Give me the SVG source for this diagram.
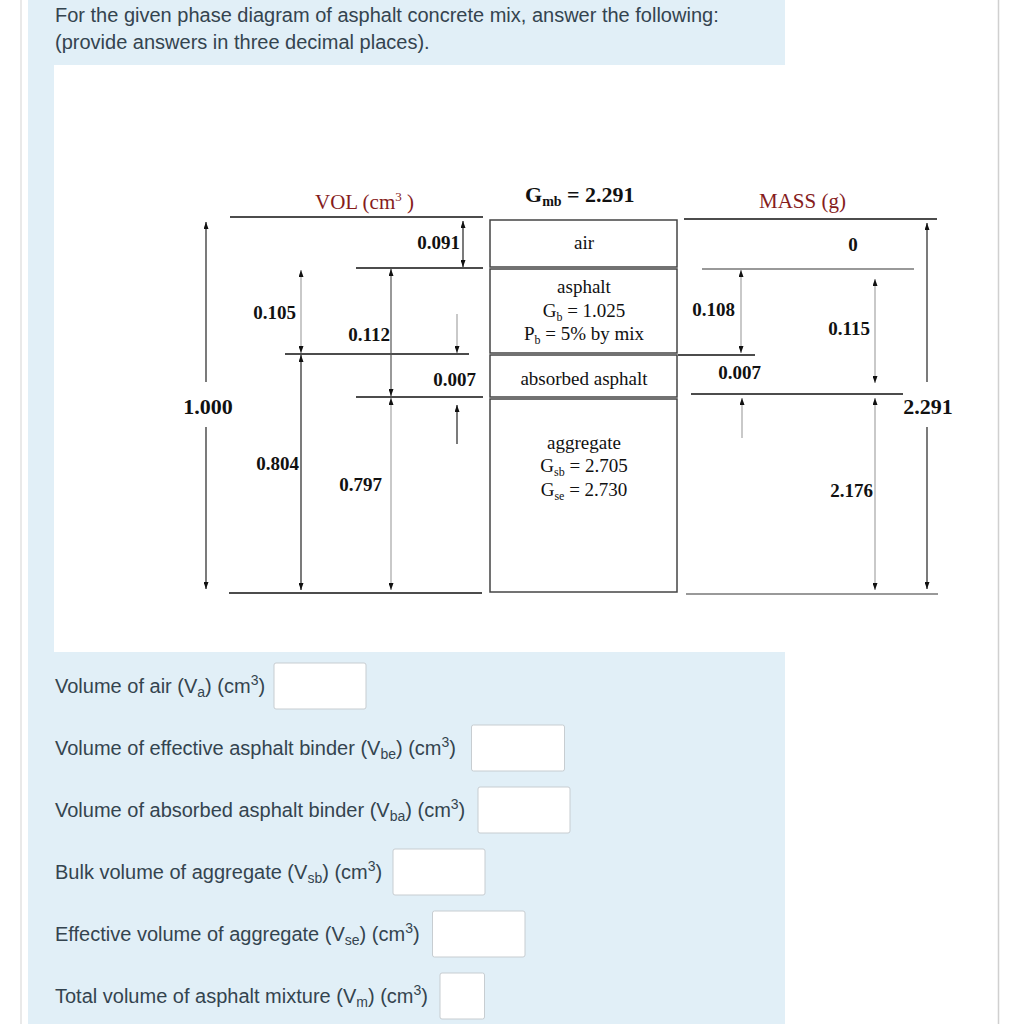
<svg xmlns="http://www.w3.org/2000/svg" width="1024" height="1024" viewBox="0 0 1024 1024">
<defs>
<marker id="ah" viewBox="0 0 7 5" refX="7" refY="2.5" markerWidth="7" markerHeight="5" markerUnits="userSpaceOnUse" orient="auto-start-reverse">
<path d="M0,0 L7,2.5 L0,5 z" fill="#111"/>
</marker>
</defs>
<style>
.sans{font-family:"Liberation Sans",Arial,sans-serif;font-size:20px;fill:#34444f}
.lbl{font-family:"Liberation Serif","Times New Roman",serif;font-size:19px;fill:#111}
.num{font-family:"Liberation Serif","Times New Roman",serif;font-weight:bold;font-size:19px;fill:#111}
.big{font-size:22px}
.title{font-family:"Liberation Serif","Times New Roman",serif;font-size:21px;fill:#861c1c}
.hl{stroke:#111;stroke-width:1.5;fill:none}
.hlg{stroke:#777}
.ar{stroke:#222;stroke-width:1.2;fill:none;marker-end:url(#ah)}
.dbl{marker-start:url(#ah)}
.g{stroke:#a5a5a5}
.box{fill:#fff;stroke:#444;stroke-width:1.5}
.inp{fill:#fff;stroke:#c7cdd1;stroke-width:1}
</style>
<rect x="0" y="0" width="1024" height="1024" fill="#fff"/>
<rect x="28" y="0" width="757" height="1024" fill="#e1eff7"/>
<rect x="54" y="65" width="731" height="587" fill="#fff"/>
<line x1="21" y1="0" x2="21" y2="1024" stroke="#e2e2e2" stroke-width="1.5"/>
<line x1="998.5" y1="0" x2="998.5" y2="1024" stroke="#d0d0d0" stroke-width="1.5"/>

<g id="header">
<text class="sans" x="55" y="22">For the given phase diagram of asphalt concrete mix, answer the following:</text>
<text class="sans" x="55" y="49">(provide answers in three decimal places).</text>
</g>

<g id="titles">
<text class="title" x="364.5" y="209" text-anchor="middle">VOL (cm<tspan font-size="13" dy="-8">3</tspan><tspan dy="8"> )</tspan></text>
<text class="num big" x="525" y="202">G<tspan font-size="14" dy="4">mb</tspan><tspan dy="-4"> = 2.291</tspan></text>
<text class="title" x="802.5" y="208" text-anchor="middle">MASS (g)</text>
</g>

<g id="node-air">
<rect class="box" x="490" y="220" width="187" height="47"/>
<text class="lbl" x="584" y="249" text-anchor="middle">air</text>
</g>
<g id="node-asphalt">
<rect class="box" x="490" y="269" width="187" height="84"/>
<text class="lbl" x="584" y="293" text-anchor="middle">asphalt</text>
<text class="lbl" x="584" y="317" text-anchor="middle">G<tspan font-size="12" dy="4">b</tspan><tspan dy="-4"> = 1.025</tspan></text>
<text class="lbl" x="584" y="340" text-anchor="middle">P<tspan font-size="12" dy="4">b</tspan><tspan dy="-4"> = 5% by mix</tspan></text>
</g>
<g id="node-absorbed">
<rect class="box" x="490" y="355" width="187" height="42"/>
<text class="lbl" x="584" y="385" text-anchor="middle">absorbed asphalt</text>
</g>
<g id="node-aggregate">
<rect class="box" x="490" y="399" width="187" height="193"/>
<text class="lbl" x="584" y="449" text-anchor="middle">aggregate</text>
<text class="lbl" x="584" y="472" text-anchor="middle">G<tspan font-size="12" dy="4">sb</tspan><tspan dy="-4"> = 2.705</tspan></text>
<text class="lbl" x="584" y="496" text-anchor="middle">G<tspan font-size="12" dy="4">se</tspan><tspan dy="-4"> = 2.730</tspan></text>
</g>

<g id="connectors">
<line class="hl" x1="230" y1="217" x2="483" y2="217"/>
<line class="hl" x1="356" y1="268" x2="483" y2="268"/>
<line class="hl" x1="285" y1="354" x2="469" y2="354"/>
<line class="hl" x1="356" y1="397" x2="483" y2="397"/>
<line class="hl" x1="229" y1="593" x2="482" y2="593"/>
<line class="hl" x1="684" y1="219" x2="937" y2="219"/>
<line class="hl hlg" x1="702" y1="269" x2="914" y2="269"/>
<line class="hl" x1="678" y1="355" x2="755" y2="355"/>
<line class="hl" x1="691" y1="394" x2="903" y2="394"/>
<line class="hl hlg" x1="686" y1="594" x2="938" y2="594"/>
<line class="ar" x1="206" y1="382" x2="206" y2="222"/>
<line class="ar" x1="206" y1="427" x2="206" y2="589"/>
<line class="ar dbl" x1="463" y1="221" x2="463" y2="267"/>
<line class="ar dbl g" x1="301" y1="270" x2="301" y2="353"/>
<line class="ar dbl" x1="391" y1="269" x2="391" y2="396" style="stroke:#555"/>
<line class="ar g" x1="457" y1="314" x2="457" y2="353"/>
<line class="ar dbl" x1="301" y1="355" x2="301" y2="590"/>
<line class="ar" x1="457" y1="444" x2="457" y2="405"/>
<line class="ar dbl g" x1="391" y1="398" x2="391" y2="590"/>
<line class="ar dbl g" x1="741" y1="270" x2="741" y2="353"/>
<line class="ar dbl g" x1="875" y1="279" x2="875" y2="383"/>
<line class="ar" x1="927" y1="382" x2="927" y2="223"/>
<line class="ar" x1="927" y1="427" x2="927" y2="589"/>
<line class="ar g" x1="742" y1="438" x2="742" y2="398"/>
<line class="ar dbl g" x1="875" y1="398" x2="875" y2="590"/>
</g>

<g id="values">
<text class="num" x="460" y="249" text-anchor="end">0.091</text>
<text class="num" x="296" y="319" text-anchor="end">0.105</text>
<text class="num" x="390" y="341" text-anchor="end">0.112</text>
<text class="num" x="476" y="386" text-anchor="end">0.007</text>
<text class="num" x="299" y="470" text-anchor="end">0.804</text>
<text class="num" x="382" y="491" text-anchor="end">0.797</text>
<text class="num big" x="208" y="414" text-anchor="middle">1.000</text>
<text class="num" x="853" y="251" text-anchor="middle">0</text>
<text class="num" x="735" y="316" text-anchor="end">0.108</text>
<text class="num" x="870" y="335" text-anchor="end">0.115</text>
<text class="num" x="739.5" y="379" text-anchor="middle">0.007</text>
<text class="num big" x="928" y="414" text-anchor="middle">2.291</text>
<text class="num" x="873" y="497" text-anchor="end">2.176</text>
</g>

<g id="form">
<g id="q1">
<text class="sans" x="55" y="693">Volume of air (V<tspan font-size="14" dy="4">a</tspan><tspan dy="-4">) (cm</tspan><tspan font-size="14" dy="-8">3</tspan><tspan dy="8">)</tspan></text>
<rect class="inp" x="274" y="663" width="92" height="46" rx="2"/>
</g>
<g id="q2">
<text class="sans" x="55" y="755">Volume of effective asphalt binder (V<tspan font-size="14" dy="4">be</tspan><tspan dy="-4">) (cm</tspan><tspan font-size="14" dy="-8">3</tspan><tspan dy="8">)</tspan></text>
<rect class="inp" x="471.5" y="725" width="93" height="46" rx="2"/>
</g>
<g id="q3">
<text class="sans" x="55" y="817">Volume of absorbed asphalt binder (V<tspan font-size="14" dy="4">ba</tspan><tspan dy="-4">) (cm</tspan><tspan font-size="14" dy="-8">3</tspan><tspan dy="8">)</tspan></text>
<rect class="inp" x="478" y="787" width="92" height="46" rx="2"/>
</g>
<g id="q4">
<text class="sans" x="55" y="879">Bulk volume of aggregate (V<tspan font-size="14" dy="4">sb</tspan><tspan dy="-4">) (cm</tspan><tspan font-size="14" dy="-8">3</tspan><tspan dy="8">)</tspan></text>
<rect class="inp" x="393" y="849" width="92" height="46" rx="2"/>
</g>
<g id="q5">
<text class="sans" x="55" y="941">Effective volume of aggregate (V<tspan font-size="14" dy="4">se</tspan><tspan dy="-4">) (cm</tspan><tspan font-size="14" dy="-8">3</tspan><tspan dy="8">)</tspan></text>
<rect class="inp" x="432.5" y="911" width="92.5" height="46" rx="2"/>
</g>
<g id="q6">
<text class="sans" x="55" y="1003">Total volume of asphalt mixture (V<tspan font-size="14" dy="4">m</tspan><tspan dy="-4">) (cm</tspan><tspan font-size="14" dy="-8">3</tspan><tspan dy="8">)</tspan></text>
<rect class="inp" x="440" y="973" width="44.5" height="46" rx="2"/>
</g>
</g>
</svg>
